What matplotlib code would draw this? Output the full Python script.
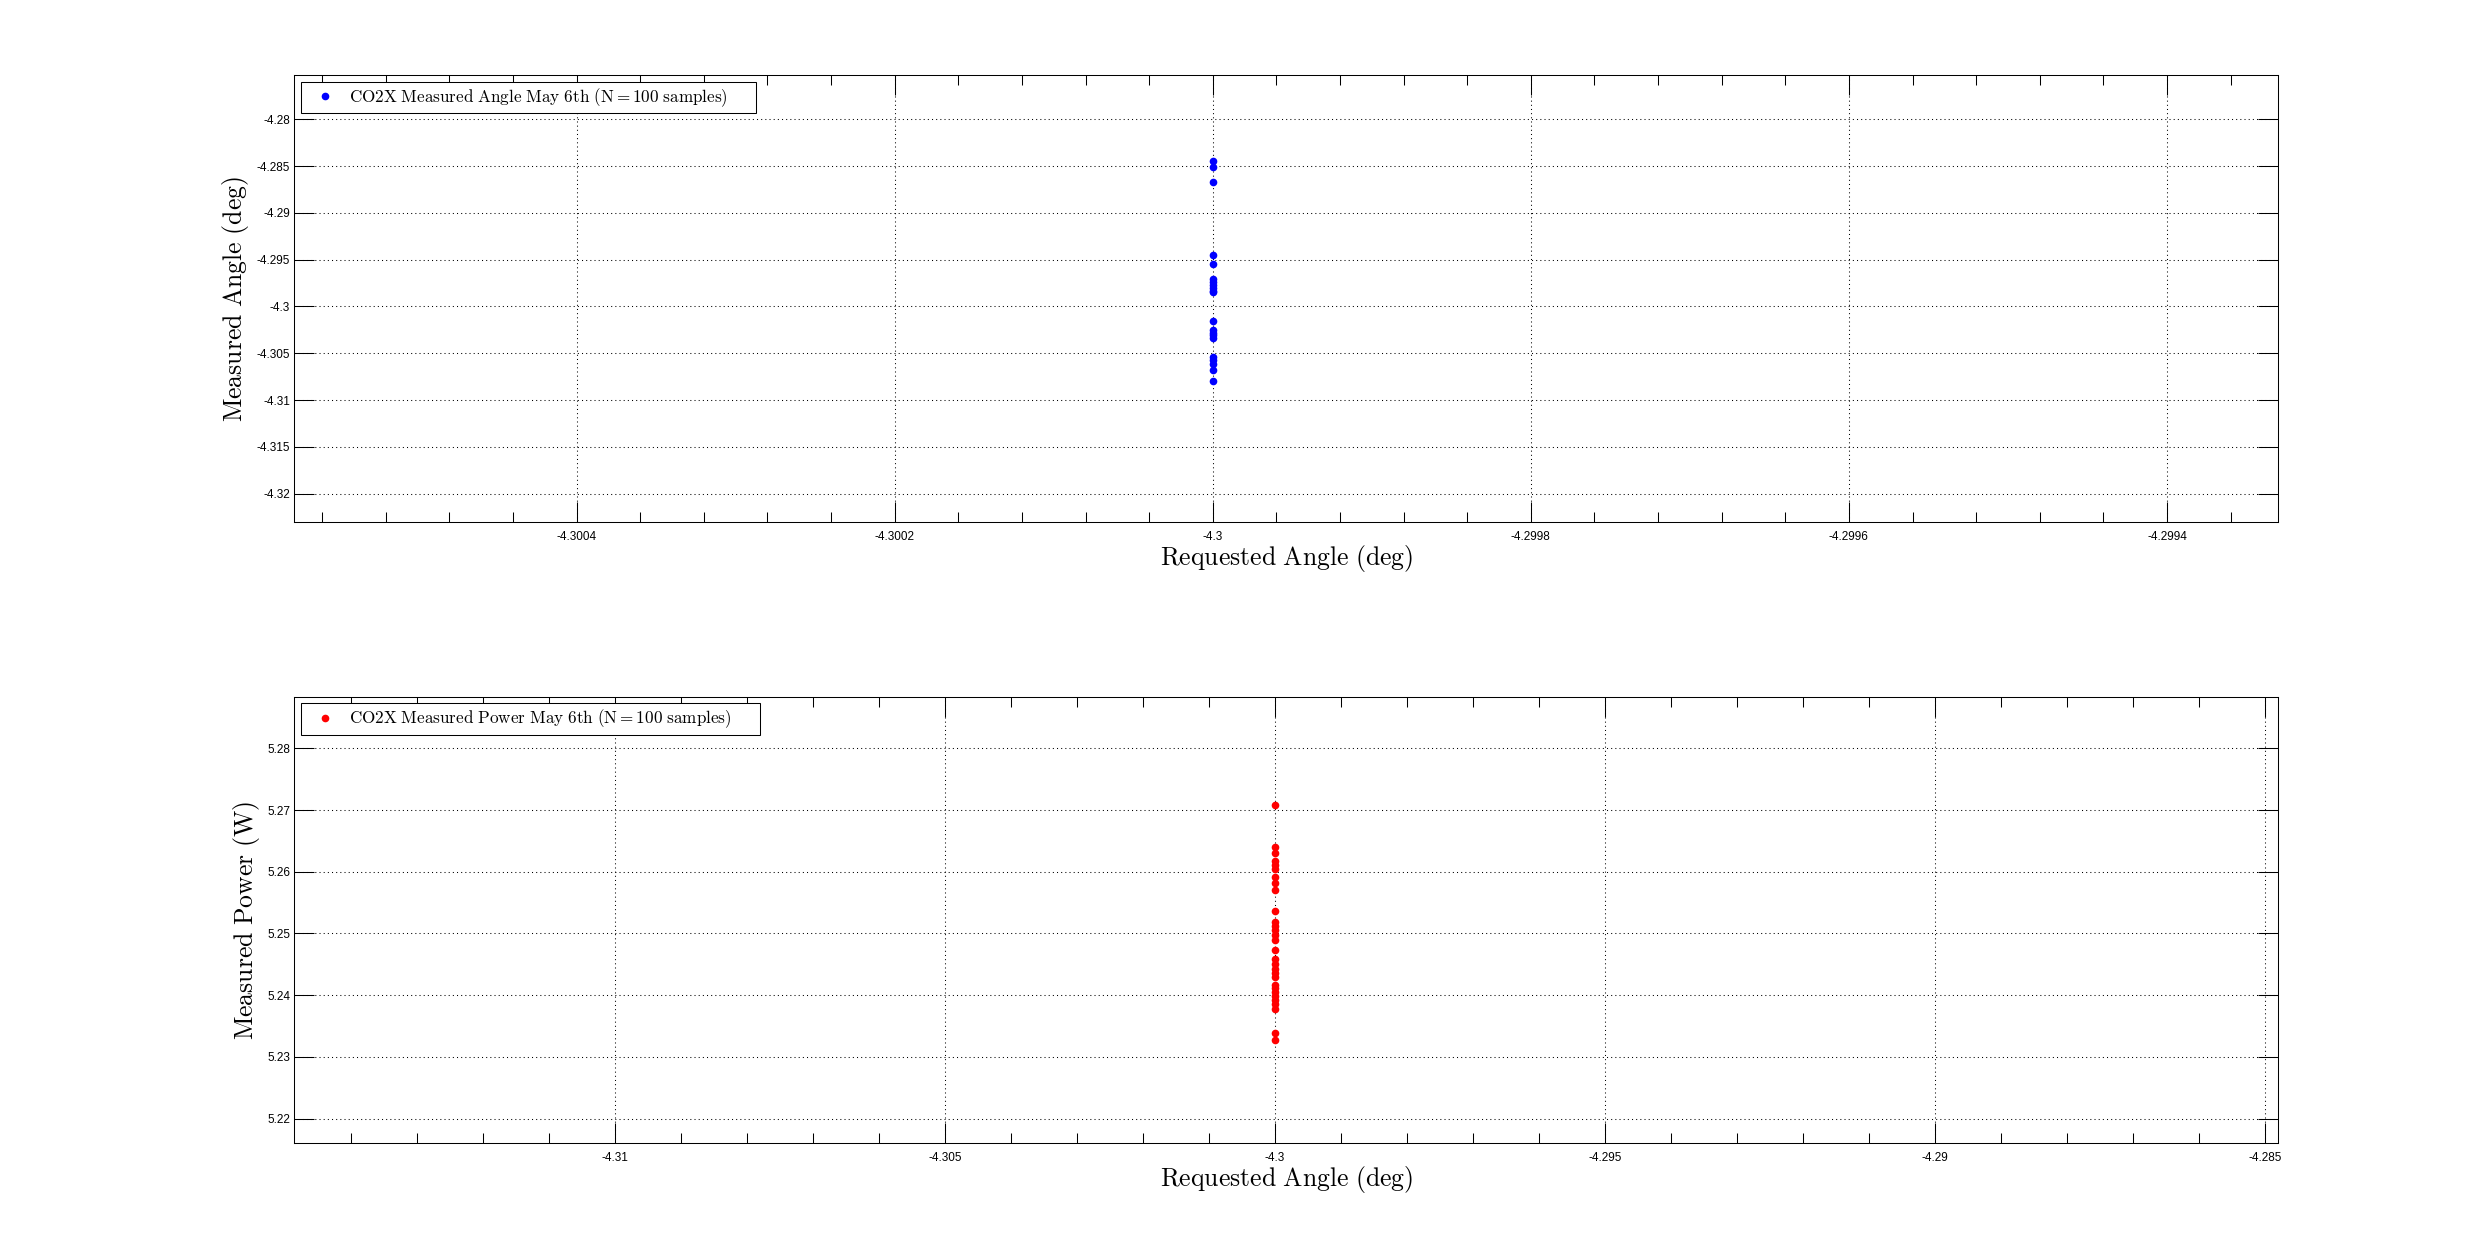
import matplotlib
matplotlib.use("Agg")
import matplotlib.pyplot as plt
from matplotlib.ticker import MultipleLocator, FuncFormatter
from matplotlib.patches import Rectangle

# ---------------- data ----------------
requested_angle = -4.3

angle_measured = [-4.28446, -4.28514, -4.28675, -4.29445, -4.29542,
                  -4.2971, -4.2974, -4.2977, -4.2980, -4.2983, -4.2985,
                  -4.30152, -4.3025, -4.3028, -4.3031, -4.3034,
                  -4.3054, -4.3057, -4.3061, -4.30677, -4.30791]

power_measured = [5.2708, 5.2640, 5.2631, 5.2617, 5.2611, 5.2605, 5.2591,
                  5.2581, 5.2570, 5.2537, 5.2518, 5.2512, 5.2505, 5.2498,
                  5.2489, 5.2473, 5.2459, 5.2451, 5.2443, 5.2436, 5.2429,
                  5.2417, 5.2411, 5.2405, 5.2399, 5.2392, 5.2386, 5.2378,
                  5.2338, 5.2327]

label_angle = r'$\mathrm{CO2X\ Measured\ Angle\ May\ 6th\ (N=100\ samples)}$'
label_power = r'$\mathrm{CO2X\ Measured\ Power\ May\ 6th\ (N=100\ samples)}$'
xlabel_txt = r'$\mathrm{Requested\ Angle\ (deg)}$'
ylabel_angle = r'$\mathrm{Measured\ Angle\ (deg)}$'
ylabel_power = r'$\mathrm{Measured\ Power\ (W)}$'

# ---------------- style ----------------
plt.rcParams['mathtext.fontset'] = 'cm'
plt.rcParams['font.family'] = ['Liberation Sans', 'DejaVu Sans']

W, H = 2485, 1256
fig = plt.figure(figsize=(W / 100, H / 100), dpi=100)
fig.patch.set_facecolor('white')

def px_axes(left, top, right, bottom):
    return fig.add_axes([left / W, 1 - bottom / H, (right - left) / W, (bottom - top) / H])

ax1 = px_axes(294.3, 75.0, 2278.3, 522.3)
ax2 = px_axes(294.3, 696.7, 2278.3, 1143.3)

fmt = FuncFormatter(lambda v, p: '%g' % round(v, 10))

def style(ax, xmaj, xmin, ymaj):
    ax.xaxis.set_major_locator(MultipleLocator(xmaj))
    ax.xaxis.set_minor_locator(MultipleLocator(xmin))
    ax.yaxis.set_major_locator(MultipleLocator(ymaj))
    ax.xaxis.set_major_formatter(fmt)
    ax.yaxis.set_major_formatter(fmt)
    ax.tick_params(which='both', direction='in', top=True, right=True,
                   width=0.75, colors='black')
    ax.tick_params(which='major', length=14.4)
    ax.tick_params(which='minor', length=7.2)
    ax.tick_params(axis='x', which='major', labelsize=8.5, pad=6)
    ax.tick_params(axis='y', which='major', labelsize=8.5, pad=3)
    ax.tick_params(axis='y', which='minor', left=False, right=False)
    for s in ax.spines.values():
        s.set_linewidth(0.75)
        s.set_color('black')
    ax.grid(True, which='major', color='black', linestyle=(0, (1, 3)), linewidth=0.75)
    ax.set_axisbelow(True)

# ---------------- top panel ----------------
ax1.plot([requested_angle] * len(angle_measured), angle_measured, linestyle='none',
         marker='o', markersize=5.5, color=(0, 0, 1), markeredgewidth=0, label=label_angle)
ax1.set_xlim(-4.3005775, -4.29933)
ax1.set_ylim(-4.32306, -4.27527)
style(ax1, 0.0002, 0.00004, 0.005)
ax1.set_xlabel(xlabel_txt, fontsize=18.5, labelpad=0)
ax1.set_ylabel(ylabel_angle, fontsize=18.5, labelpad=4)

# ---------------- bottom panel ----------------
ax2.plot([requested_angle] * len(power_measured), power_measured, linestyle='none',
         marker='o', markersize=5.5, color=(1, 0, 0), markeredgewidth=0, label=label_power)
ax2.set_xlim(-4.31486, -4.2848)
ax2.set_ylim(5.21601, 5.28836)
style(ax2, 0.005, 0.001, 0.01)
ax2.set_xlabel(xlabel_txt, fontsize=18.5, labelpad=0)
ax2.set_ylabel(ylabel_power, fontsize=18.5, labelpad=4)

legends = []
for ax in (ax1, ax2):
    pos = ax.get_position()
    axw = pos.width * W
    axh = pos.height * H
    leg = ax.legend(loc='upper left', bbox_to_anchor=(6.4 / axw, 1 - 6.7 / axh),
                    borderaxespad=0, fontsize=12.3, frameon=False,
                    handlelength=2.4, handletextpad=0.2, borderpad=0.25, numpoints=1)
    legends.append((ax, leg))

# MATLAB-style legend frame: extra blank space on the right of the text
fig.canvas.draw()
inv = fig.transFigure.inverted()
for ax, leg in legends:
    bb = leg.get_window_extent()
    x0, y0 = inv.transform((bb.x0, bb.y0))
    x1, y1 = inv.transform((bb.x1 + 24, bb.y1))
    rect = Rectangle((x0, y0), x1 - x0, y1 - y0, transform=fig.transFigure,
                     facecolor='white', edgecolor='black', linewidth=0.75, zorder=4)
    fig.add_artist(rect)
    leg.set_zorder(5)
    leg.remove()
    fig.add_artist(leg)

fig.savefig('out.png', dpi=100, facecolor='white')
